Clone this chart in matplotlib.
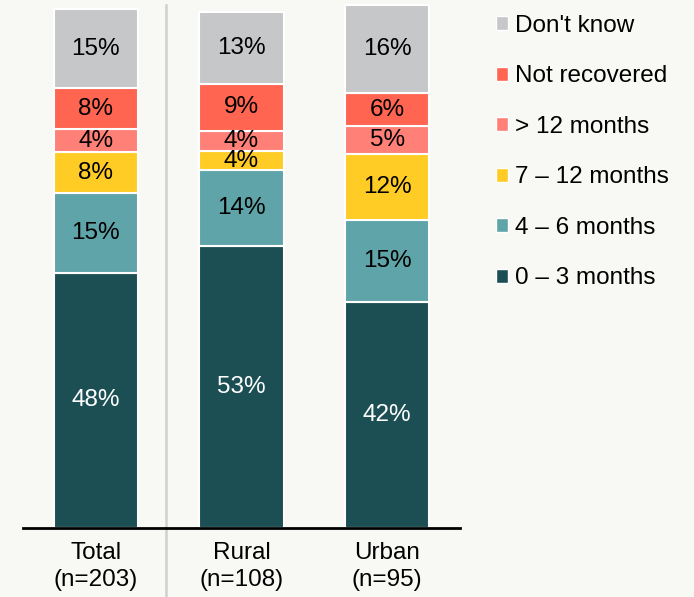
import matplotlib
matplotlib.use("Agg")
import matplotlib.pyplot as plt
from matplotlib.patches import Patch
import numpy as np

plt.rcParams['font.family'] = ['Liberation Sans', 'DejaVu Sans']

groups = ["Total\n(n=203)", "Rural\n(n=108)", "Urban\n(n=95)"]
series = ["0 – 3 months", "4 – 6 months", "7 – 12 months", "> 12 months",
          "Not recovered", "Don't know"]
# share of respondents (%)
m0_3 = [47.9, 52.8, 42.3]
m4_6 = [14.9, 14.3, 15.4]
m7_12 = [7.7, 3.6, 12.4]
m12p = [4.3, 3.7, 5.2]
not_rec = [7.7, 8.9, 6.3]
dont_know = [14.8, 13.4, 16.4]
values = [m0_3, m4_6, m7_12, m12p, not_rec, dont_know]

colors = ["#1b4f53", "#5fa4a9", "#ffcb25", "#ff8077", "#ff6550", "#c6c7c9"]
text_colors = ["white", "black", "black", "black", "black", "black"]
BG = "#f8f8f4"
FS = 17.5

W, H = 694, 597
fig = plt.figure(figsize=(W / 100, H / 100), dpi=100, facecolor=BG)
ax = fig.add_axes([23 / W, 69 / H, 437 / W, 528 / H], facecolor=BG)

x = np.arange(len(groups))
bottom = np.zeros(len(groups))
for vals, col, tcol in zip(values, colors, text_colors):
    vals = np.array(vals)
    ax.bar(x, vals, 0.58, bottom=bottom, color=col, edgecolor="white", linewidth=1.5)
    for xi, b, v in zip(x, bottom, vals):
        ax.text(xi, b + v / 2, f"{v:.0f}%", ha="center", va="center",
                fontsize=FS, color=tcol)
    bottom += vals

ax.set_xlim(-0.5, 2.5)
ax.set_ylim(0, 99)
ax.set_yticks([])
ax.set_xticks(x)
ax.set_xticklabels(groups, fontsize=FS, linespacing=1.3)
ax.tick_params(axis="x", length=0, pad=10)
for s in ["top", "right", "left"]:
    ax.spines[s].set_visible(False)
ax.spines["bottom"].set_linewidth(2)
ax.spines["bottom"].set_color("black")

# separator between Total and the breakdown
ax.plot([0.481, 0.481], [-69 / 528, 523 / 528], color="#d0d0d0", lw=1.8,
        transform=ax.get_xaxis_transform(), clip_on=False, zorder=0)

handles = [Patch(facecolor=c, edgecolor="white", linewidth=1, label=l)
           for c, l in zip(colors, series)][::-1]
fig.legend(handles=handles, loc="upper left", bbox_to_anchor=(479 / W, 1 + 2 / H),
           frameon=False, fontsize=FS, handlelength=0.5, handleheight=0.5,
           handletextpad=0.3, labelspacing=1.17, borderpad=0.2)

fig.savefig("out.png", dpi=100, facecolor=BG)
